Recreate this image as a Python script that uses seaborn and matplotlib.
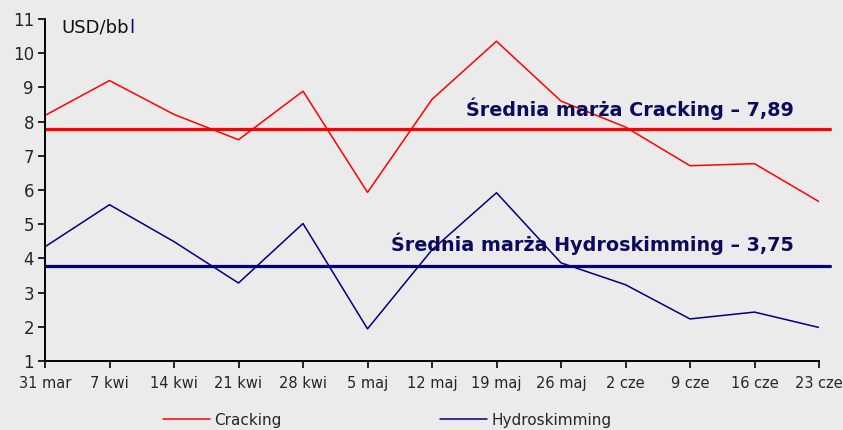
import pandas as pd
import seaborn as sns
import matplotlib.pyplot as plt

WEEKS = ["31 mar", "7 kwi", "14 kwi", "21 kwi", "28 kwi", "5 maj", "12 maj",
         "19 maj", "26 maj", "2 cze", "9 cze", "16 cze", "23 cze"]
CRACKING = [8.18, 9.2, 8.21, 7.47, 8.89, 5.93, 8.65, 10.35, 8.6, 7.84, 6.71, 6.77, 5.66]
HYDRO = [4.34, 5.57, 4.49, 3.28, 5.02, 1.94, 4.25, 5.92, 3.87, 3.23, 2.23, 2.43, 1.98]
AVG_CRACKING = 7.79
AVG_HYDRO = 3.78
LABEL_CRACKING = "Średnia marża Cracking – 7,89"
LABEL_HYDRO = "Średnia marża Hydroskimming – 3,75"

RED = "#ff0000"
NAVY = "#000080"
TEXT_NAVY = "#0b0b5e"
BG = "#ebebeb"

sns.set_style("white", {"axes.facecolor": BG, "figure.facecolor": BG})
plt.rcParams["font.family"] = ["DejaVu Sans"]

df = pd.DataFrame({
    "week": pd.Categorical(WEEKS * 2, categories=WEEKS, ordered=True),
    "value": CRACKING + HYDRO,
    "series": ["Cracking"] * len(WEEKS) + ["Hydroskimming"] * len(WEEKS),
})
df["pos"] = df["week"].cat.codes

fig = plt.figure(figsize=(8.43, 4.30), dpi=100)
ax = fig.add_axes([45 / 843, 69 / 430, 774 / 843, 342 / 430])

sns.lineplot(data=df, x="pos", y="value", hue="series",
             palette={"Cracking": RED, "Hydroskimming": NAVY},
             lw=1.1, ax=ax, legend=False)

ax.axhline(AVG_CRACKING, xmin=0, xmax=1.014, color=RED, lw=2.3, clip_on=False)
ax.axhline(AVG_HYDRO, xmin=0, xmax=1.014, color=NAVY, lw=2.3, clip_on=False)

ax.text(11.61, AVG_CRACKING + 0.6, LABEL_CRACKING, ha="right", va="center",
        fontsize=13.8, fontweight="bold", color=TEXT_NAVY)
ax.text(11.61, AVG_HYDRO + 0.65, LABEL_HYDRO, ha="right", va="center",
        fontsize=13.8, fontweight="bold", color=TEXT_NAVY)

t = ax.text(0.26, 10.75, "USD/bb", ha="left", va="center", fontsize=13, color="#111111")
ax.annotate("l", xy=(1, 0), xycoords=t, ha="left", va="bottom",
            fontsize=13, color=NAVY)

ax.set_xlim(0, 12)
ax.set_ylim(1, 11)
ax.set_yticks(range(1, 12))
ax.set_xticks(range(len(WEEKS)))
ax.set_xticklabels(WEEKS)
ax.tick_params(axis="y", labelsize=12, length=5, width=1.2, color="black", left=True, pad=3)
ax.tick_params(axis="x", labelsize=10.5, length=5, width=1.2, color="black", bottom=True, pad=6)
ax.set_xlabel("")
ax.set_ylabel("")

for side in ["top", "right"]:
    ax.spines[side].set_visible(False)
for side in ["left", "bottom"]:
    ax.spines[side].set_color("black")
    ax.spines[side].set_linewidth(1.4)

handles = [plt.Line2D([], [], color=RED, lw=1.1),
           plt.Line2D([], [], color=NAVY, lw=1.1)]
fig.legend(handles, ["Cracking", "Hydroskimming"], loc="center",
           bbox_to_anchor=(387 / 843, 10 / 430), ncol=2, frameon=False,
           fontsize=11, handlelength=3.1, handletextpad=0.25, columnspacing=10.4)

fig.savefig("out.png", dpi=100, facecolor=BG)
